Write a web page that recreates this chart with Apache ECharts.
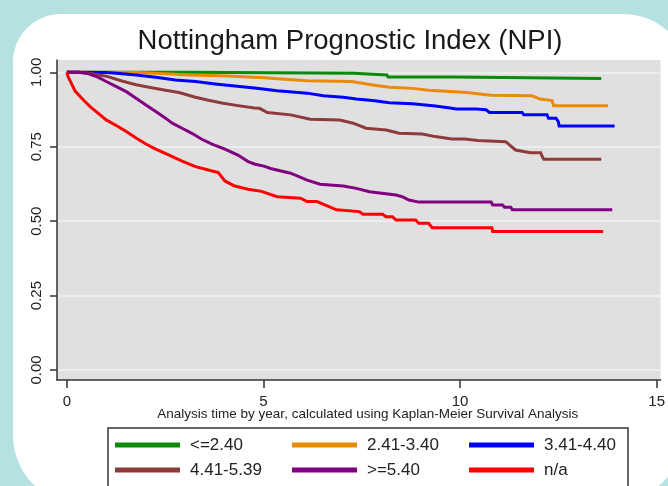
<!DOCTYPE html>
<html>
<head>
<meta charset="utf-8">
<script src="https://cdn.jsdelivr.net/npm/echarts@6/dist/echarts.min.js"></script>
<style>
  html, body { margin: 0; padding: 0; }
  #npi-chart { width: 668px; height: 486px; }
</style>
</head>
<body>
<div id="npi-chart"></div>
<script>
// Kaplan-Meier curves: [years, survival]
// a repeated time marks a step down
const groupNames = ["<=2.40", "2.41-3.40", "3.41-4.40", "4.41-5.39", ">=5.40", "n/a"];
const groupColors = ["#0a8a0a", "#ea8a08", "#0000ff", "#8e3b3b", "#800080", "#ff0000"];

const npiLow = [
  [0, 1], [3.1, 1], [3.15, 0.997], [7.3, 0.997], [7.33, 0.991], [8.14, 0.991],
  [8.17, 0.984], [9.85, 0.984], [9.88, 0.979], [13.59, 0.979]
];
const npiLowMid = [
  [0, 1], [1.76, 0.999], [2.26, 0.997], [3.1, 0.991], [3.94, 0.988], [5.03, 0.982],
  [5.27, 0.979], [6.11, 0.972], [7.24, 0.969], [7.29, 0.963], [7.78, 0.957], [8.2, 0.950],
  [8.79, 0.946], [9.2, 0.940], [9.87, 0.935], [10.16, 0.932], [10.79, 0.923], [11.83, 0.921],
  [12.04, 0.910], [12.34, 0.905], [12.38, 0.888], [13.76, 0.888]
];
const npiMid = [
  [0, 1], [1.0, 0.999], [1.26, 0.997], [1.76, 0.991], [2.26, 0.983], [2.76, 0.974],
  [3.27, 0.969], [3.77, 0.961], [4.27, 0.954], [4.77, 0.947], [5.35, 0.938], [6.11, 0.930],
  [6.52, 0.921], [7.03, 0.916], [7.36, 0.910], [7.78, 0.905], [8.2, 0.898], [8.79, 0.894],
  [9.37, 0.887], [9.79, 0.879], [9.9, 0.877], [10.41, 0.877], [10.45, 0.874], [10.66, 0.874],
  [10.75, 0.865], [11.58, 0.865], [11.62, 0.857], [12.21, 0.857], [12.25, 0.846], [12.44, 0.846],
  [12.5, 0.834], [12.52, 0.820], [13.93, 0.820]
];
const npiMidHigh = [
  [0, 1], [0.3, 1], [0.59, 0.996], [1.0, 0.987], [1.42, 0.970], [1.76, 0.958],
  [2.09, 0.950], [2.51, 0.940], [2.85, 0.932], [3.27, 0.916], [3.6, 0.906], [3.94, 0.897],
  [4.35, 0.888], [4.77, 0.880], [4.9, 0.879], [5.1, 0.865], [5.69, 0.857], [6.19, 0.842],
  [6.94, 0.840], [7.28, 0.829], [7.61, 0.812], [8.12, 0.806], [8.45, 0.795], [9.04, 0.793],
  [9.37, 0.784], [9.79, 0.776], [10.12, 0.776], [10.16, 0.771], [10.45, 0.771], [10.49, 0.767],
  [11.16, 0.767], [11.41, 0.739], [11.79, 0.730], [12.05, 0.730], [12.09, 0.717], [12.13, 0.708],
  [13.59, 0.708]
];
const npiHigh = [
  [0, 1], [0.3, 1], [0.5, 0.997], [0.75, 0.986], [1.0, 0.969], [1.26, 0.952],
  [1.51, 0.935], [1.76, 0.913], [2.01, 0.890], [2.26, 0.868], [2.51, 0.846], [2.68, 0.829],
  [2.93, 0.812], [3.18, 0.795], [3.43, 0.775], [3.69, 0.759], [4.02, 0.742], [4.35, 0.722],
  [4.61, 0.700], [4.77, 0.692], [5.03, 0.684], [5.18, 0.677], [5.69, 0.661], [6.11, 0.638],
  [6.44, 0.624], [7.03, 0.618], [7.36, 0.610], [7.7, 0.599], [8.37, 0.588], [8.53, 0.582],
  [8.7, 0.571], [8.95, 0.564], [10.79, 0.564], [10.83, 0.554], [11.08, 0.554], [11.13, 0.547],
  [11.29, 0.547], [11.33, 0.538], [13.87, 0.538]
];
const npiMissing = [
  [0, 1], [0.03, 0.985], [0.08, 0.972], [0.21, 0.937], [0.42, 0.907], [0.59, 0.885],
  [0.8, 0.862], [1.0, 0.840], [1.3, 0.818], [1.51, 0.801], [1.76, 0.779], [2.01, 0.759],
  [2.26, 0.742], [2.6, 0.722], [2.93, 0.702], [3.27, 0.683], [3.6, 0.672], [3.85, 0.663],
  [4.02, 0.635], [4.27, 0.618], [4.61, 0.607], [4.95, 0.600], [5.35, 0.582], [5.94, 0.577],
  [6.11, 0.566], [6.36, 0.566], [6.86, 0.538], [7.44, 0.532], [7.53, 0.523], [8.03, 0.523],
  [8.12, 0.515], [8.28, 0.515], [8.37, 0.504], [8.87, 0.504], [8.95, 0.493], [9.2, 0.493],
  [9.29, 0.478], [10.81, 0.478], [10.83, 0.465], [13.64, 0.465]
];
const groupData = [npiLow, npiLowMid, npiMid, npiMidHigh, npiHigh, npiMissing];

const xTicks = [0, 5, 10, 15];
const yTicks = [0, 0.25, 0.5, 0.75, 1];

const chartDom = document.getElementById("npi-chart");
const myChart = echarts.init(chartDom, null, { renderer: "canvas" });
const font = "'Liberation Sans', Arial, sans-serif";
const ink = "#222";

// legend is laid out as three columns of two entries
const legendCols = [[0, 3], [1, 4], [2, 5]];
const legendLefts = [115, 292, 469];

const option = {
  animation: false,
  backgroundColor: "#b5e2e0",
  textStyle: { fontFamily: font },
  graphic: [
    {
      // white rounded panel behind the chart
      type: "rect",
      z: -10,
      shape: { x: 13, y: 14, width: 677, height: 491, r: [48, 67, 85, 70] },
      style: { fill: "#ffffff" }
    },
    {
      type: "rect",
      z: -5,
      shape: { x: 108, y: 428, width: 520, height: 70 },
      style: { fill: "#ffffff", stroke: "#333", lineWidth: 1.5 }
    }
  ],
  title: {
    text: "Nottingham Prognostic Index (NPI)",
    left: 345,
    top: 22,
    textAlign: "center",
    textStyle: { fontFamily: font, fontSize: 27.5, fontWeight: "normal", color: "#1a1a1a" }
  },
  legend: legendCols.map((idx, i) => ({
    data: idx.map((k) => groupNames[k]),
    orient: "vertical",
    left: legendLefts[i],
    top: 436,
    padding: 0,
    itemGap: 7,
    itemWidth: 65,
    itemHeight: 5,
    icon: "rect",
    selectedMode: false,
    textStyle: { fontFamily: font, fontSize: 17, color: ink, lineHeight: 18, padding: [0, 0, 0, 5] }
  })),
  grid: {
    left: 57,
    top: 60,
    right: 0,
    bottom: 106,
    show: true,
    backgroundColor: "#e0e0e0",
    borderWidth: 0
  },
  xAxis: {
    type: "value",
    min: -0.2513,
    max: 15.1,
    name: "Analysis time by year, calculated using Kaplan-Meier Survival Analysis",
    nameLocation: "middle",
    nameGap: 27,
    nameMoveOverlap: false,
    nameTextStyle: { fontFamily: font, fontSize: 13.5, color: ink, padding: [0, 0, 0, 18] },
    axisLine: { onZero: false, lineStyle: { color: "#333", width: 1.5 } },
    axisTick: { customValues: xTicks, length: 8, lineStyle: { color: "#333", width: 1.5 } },
    axisLabel: { customValues: xTicks, margin: 14, fontSize: 15, color: ink, fontFamily: font },
    splitLine: { show: false }
  },
  yAxis: {
    type: "value",
    min: -0.0336,
    max: 1.0413,
    axisLine: { show: true, onZero: false, lineStyle: { color: "#333", width: 1.5 } },
    axisTick: { show: true, customValues: yTicks, length: 7, lineStyle: { color: "#333", width: 1.5 } },
    axisLabel: {
      customValues: yTicks,
      rotate: 90,
      margin: 13,
      fontSize: 15,
      color: ink,
      fontFamily: font,
      formatter: (v) => v.toFixed(2)
    },
    splitLine: { show: true, lineStyle: { color: "#edf3f3", width: 1.5 } }
  },
  series: groupNames.map((name, i) => ({
    name: name,
    type: "line",
    data: groupData[i],
    showSymbol: false,
    symbol: "none",
    clip: false,
    color: groupColors[i],
    lineStyle: { width: 3, color: groupColors[i], join: "miter" }
  }))
};
myChart.setOption(option);
</script>
</body>
</html>
